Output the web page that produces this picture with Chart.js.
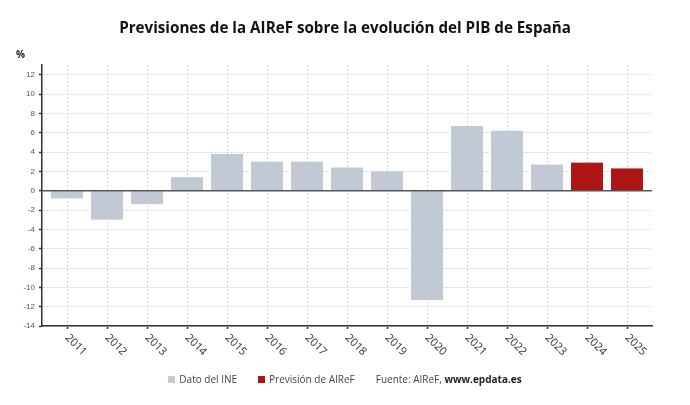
<!DOCTYPE html>
<html>
<head>
<meta charset="utf-8">
<script src="https://cdn.jsdelivr.net/npm/chart.js@4/dist/chart.umd.min.js"></script>
<style>
  body { margin: 0; background: #fff; }
  #wrap { position: relative; width: 690px; height: 405px; font-family: "Open Sans", sans-serif; }
  #titulo { position: absolute; left: 0; top: 15px; width: 690px; text-align: center;
            font-size: 15.2px; font-weight: bold; color: #111; line-height: 24px; }
  #unidad { position: absolute; left: 16px; top: 47px; font-size: 10px; font-weight: bold; color: #222; }
  #leyenda { position: absolute; left: 0; top: 372px; width: 690px; display: flex; justify-content: center;
             align-items: center; font-size: 10px; color: #444; }
  #leyenda .item { display: flex; align-items: center; margin-right: 21px; }
  #leyenda .cuadro { width: 7px; height: 7px; margin-right: 4px; }
  canvas { position: absolute; left: 0; top: 0; }
</style>
</head>
<body>
<div id="wrap">
  <canvas id="chart" width="690" height="405"></canvas>
  <div id="titulo">Previsiones de la AIReF sobre la evolución del PIB de España</div>
  <div id="unidad">%</div>
  <div id="leyenda">
    <div class="item"><span class="cuadro" style="background:#c1c9d4"></span>Dato del INE</div>
    <div class="item"><span class="cuadro" style="background:#ae1515"></span>Previsión de AIReF</div>
    <div class="item" style="margin-right:0">Fuente: AIReF,&nbsp;<b style="color:#222">www.epdata.es</b></div>
  </div>
</div>
<script>
// Datos (% de variación del PIB)
var years = [2011, 2012, 2013, 2014, 2015, 2016, 2017, 2018, 2019, 2020, 2021, 2022, 2023, 2024, 2025];
var ineValues = [-0.8, -3.0, -1.4, 1.4, 3.8, 3.0, 3.0, 2.4, 2.0, -11.3, 6.7, 6.2, 2.7, null, null];
var airefValues = [null, null, null, null, null, null, null, null, null, null, null, null, null, 2.9, 2.3];
var yTicks = [-14, -12, -10, -8, -6, -4, -2, 0, 2, 4, 6, 8, 10, 12];

function toPoints(values) {
    return years.map(function (y, i) {
        return { x: y, y: values[i] };
    });
}

// Etiquetas del eje X giradas hacia abajo (no lo hace Chart.js por sí mismo)
var xLabelsPlugin = {
    id: 'xLabels',
    afterDraw: function (chart) {
        var ctx = chart.ctx;
        var xs = chart.scales.x;
        var bottom = chart.chartArea.bottom;
        ctx.save();
        ctx.font = '11px "Open Sans"';
        ctx.fillStyle = '#333';
        ctx.textAlign = 'left';
        ctx.textBaseline = 'middle';
        years.forEach(function (y) {
            var px = xs.getPixelForValue(y);
            ctx.save();
            ctx.translate(px, bottom + 10);
            ctx.rotate(Math.PI / 4);
            ctx.fillText(String(y), 0, 0);
            ctx.restore();
        });
        ctx.restore();
    }
};

// Línea del cero por encima de las barras
var zeroLinePlugin = {
    id: 'zeroLine',
    afterDatasetsDraw: function (chart) {
        var ctx = chart.ctx;
        var area = chart.chartArea;
        var py = chart.scales.y.getPixelForValue(0);
        ctx.save();
        ctx.strokeStyle = '#555';
        ctx.lineWidth = 1.5;
        ctx.beginPath();
        ctx.moveTo(area.left, py);
        ctx.lineTo(area.right, py);
        ctx.stroke();
        ctx.restore();
    }
};

var ctx = document.getElementById("chart").getContext("2d");
var chart = new Chart(ctx, {
    type: "bar",
    data: {
        datasets: [
            {
                label: "Dato del INE",
                data: toPoints(ineValues),
                backgroundColor: "#c1c9d4",
                categoryPercentage: 1,
                barPercentage: 0.8
            },
            {
                label: "Previsión de AIReF",
                data: toPoints(airefValues),
                backgroundColor: "#ae1515",
                categoryPercentage: 1,
                barPercentage: 0.8
            }
        ]
    },
    options: {
        responsive: false,
        animation: false,
        layout: { padding: { top: 65, right: 38, left: 0, bottom: 0 } },
        plugins: {
            legend: { display: false },
            tooltip: { enabled: false }
        },
        scales: {
            x: {
                type: "linear",
                stacked: true,
                offset: false,
                min: 2010.375,
                max: 2025.625,
                afterBuildTicks: function (scale) {
                    scale.ticks = years.map(function (y) { return { value: y }; });
                },
                afterFit: function (scale) { scale.height = 79; },
                ticks: { display: false },
                grid: {
                    offset: false,
                    color: "#d6d0db",
                    lineWidth: 1,
                    tickColor: "#333",
                    tickLength: 3,
                    tickWidth: 1.5
                },
                // en v4 "dash" se aplica a las líneas de la rejilla
                border: { display: true, color: "#333", width: 1.5, dash: [2, 2] }
            },
            y: {
                stacked: true,
                min: -14,
                max: 13,
                afterBuildTicks: function (scale) {
                    scale.ticks = yTicks.map(function (v) { return { value: v }; });
                },
                afterFit: function (scale) { scale.width = 42; },
                ticks: {
                    color: "#555",
                    font: { family: "Liberation Sans", size: 8 },
                    padding: 4
                },
                grid: {
                    color: "#d6d0db",
                    lineWidth: 1,
                    tickColor: "#333",
                    tickLength: 3,
                    tickWidth: 1.5
                },
                border: { display: true, color: "#333", width: 1.5, dash: [2, 2] }
            }
        }
    },
    plugins: [xLabelsPlugin, zeroLinePlugin]
});
</script>
</body>
</html>
